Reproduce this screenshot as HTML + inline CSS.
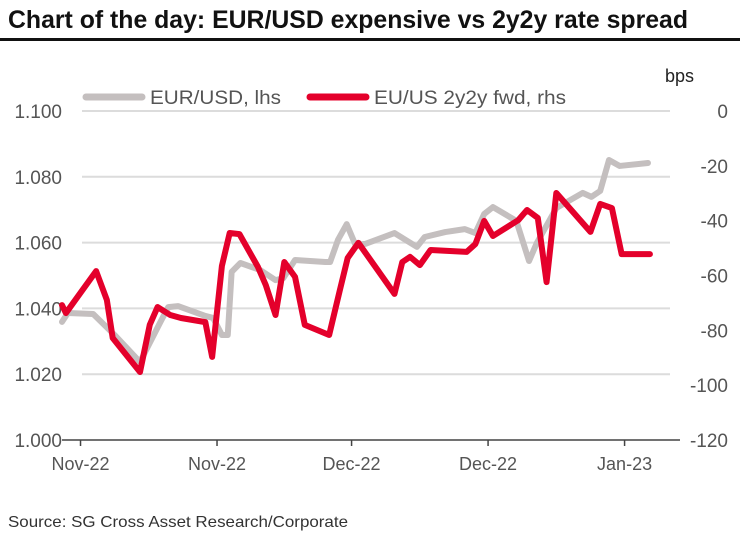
<!DOCTYPE html>
<html><head><meta charset="utf-8"><style>
html,body{margin:0;padding:0;background:#fff;}
svg{display:block;font-family:"Liberation Sans",sans-serif;}
</style></head><body>
<svg id="chart" width="740" height="533" viewBox="0 0 740 533">
<text x="8" y="28" font-size="25" font-weight="bold" fill="#111" textLength="680" lengthAdjust="spacingAndGlyphs">Chart of the day: EUR/USD expensive vs 2y2y rate spread</text>
<rect x="0" y="38" width="740" height="3" fill="#111"/>
<g id="grid"></g>
<g id="axes"></g>
<g id="series"></g>
<g>
<line x1="86" y1="97" x2="142" y2="97" stroke="#c4bfbf" stroke-width="7" stroke-linecap="round"/>
<text x="150" y="104" font-size="19" fill="#555" textLength="131" lengthAdjust="spacingAndGlyphs">EUR/USD, lhs</text>
<line x1="310" y1="97" x2="366" y2="97" stroke="#e4002b" stroke-width="7" stroke-linecap="round"/>
<text x="374" y="104" font-size="19" fill="#555" textLength="192" lengthAdjust="spacingAndGlyphs">EU/US 2y2y fwd, rhs</text>
</g>
<text x="665" y="82" font-size="18" fill="#222">bps</text>
<text x="8" y="527" font-size="16" fill="#333" textLength="340" lengthAdjust="spacingAndGlyphs">Source: SG Cross Asset Research/Corporate</text>
</svg>
<script>
const lhsTicks=[1.000,1.020,1.040,1.060,1.080,1.100];
const lhsTickLabels=["1.000","1.020","1.040","1.060","1.080","1.100"];
const rhsTicks=[-120,-100,-80,-60,-40,-20,0];
const xTickDays=[1.9,15.9,29.7,43.7,57.7];
const xTickLabels=["Nov-22","Nov-22","Dec-22","Dec-22","Jan-23"];
const eurDays=[0,0.6,3.2,5.5,8.0,10.1,10.9,11.9,14.7,15.5,16.4,17.0,17.4,18.3,20.3,21.9,22.7,23.9,27.0,27.5,28.3,29.2,30.1,31.1,34.1,36.4,37.2,39.3,41.3,42.4,43.3,44.2,46.6,47.9,48.7,50.7,53.4,54.3,55.2,56.1,57.2,60.1];
const eurValues=[1.0359,1.0386,1.0383,1.0316,1.0237,1.0359,1.0404,1.0407,1.0377,1.0371,1.0319,1.0319,1.0511,1.0538,1.0517,1.0486,1.0492,1.0547,1.0541,1.0541,1.0608,1.0656,1.0593,1.0596,1.0629,1.0587,1.0617,1.0632,1.0641,1.0629,1.0687,1.0708,1.0666,1.0544,1.0599,1.0705,1.0751,1.0739,1.0757,1.0851,1.0833,1.0842];
const sprDays=[0,0.4,3.5,4.6,5.2,8.0,9.0,9.8,11.1,12.2,14.7,15.4,16.4,17.2,18.2,20.1,20.9,21.9,22.8,23.9,24.9,27.4,28.5,29.3,30.4,34.1,34.9,35.7,36.7,37.8,41.5,42.4,43.3,44.2,46.8,47.7,48.8,49.7,50.7,54.2,55.2,56.4,57.4,60.3];
const sprValues=[-70.8,-73.7,-58.4,-68.9,-82.8,-95.2,-78.0,-71.5,-74.4,-75.5,-77.0,-89.7,-56.5,-44.5,-44.9,-56.9,-63.5,-74.4,-55.1,-60.5,-78.0,-81.7,-65.3,-53.6,-48.1,-66.7,-55.1,-53.2,-56.2,-50.7,-51.4,-48.5,-40.1,-45.6,-39.8,-36.1,-39.0,-62.4,-29.9,-44.1,-33.9,-35.4,-52.2,-52.2];

const NS="http://www.w3.org/2000/svg";
const X0=62,PXD=9.75,Y0=440,Y1=111;
const xs=d=>X0+d*PXD;
const yl=v=>Y0-(v-1.0)/0.1*(Y0-Y1);
const yr=v=>Y0-(v+120)/120*(Y0-Y1);
function mk(tag,attrs,parent){const e=document.createElementNS(NS,tag);for(const k in attrs)e.setAttribute(k,attrs[k]);parent.appendChild(e);return e;}
const grid=document.getElementById('grid'),axes=document.getElementById('axes'),series=document.getElementById('series');
lhsTicks.forEach((v,i)=>{
  if(i>0){const g=mk('line',{x1:82,x2:670,y1:yl(v),y2:yl(v),stroke:'#dcdcdc','stroke-width':2},grid);
  
  }
  const t=mk('text',{x:62,y:yl(v)+7,'font-size':19,fill:'#555','text-anchor':'end'},axes);
  t.textContent=lhsTickLabels[i];
  
  
});
rhsTicks.forEach(v=>{
  const t=mk('text',{x:728,y:yr(v)+7,'font-size':19,fill:'#555','text-anchor':'end'},axes);
  t.textContent=String(v);
  
  
});
const ax=mk('line',{x1:62,x2:680,y1:Y0,y2:Y0,stroke:'#444','stroke-width':1.5},axes);


xTickDays.forEach((d,i)=>{
  const tk=mk('line',{x1:xs(d),x2:xs(d),y1:Y0,y2:Y0+6,stroke:'#444','stroke-width':1.5},axes);
  
  
  const t=mk('text',{x:xs(d),y:470,'font-size':18,fill:'#555','text-anchor':'middle'},axes);
  t.textContent=xTickLabels[i];
  
  
});
const p1=mk('polyline',{points:eurDays.map((d,i)=>xs(d)+','+yl(eurValues[i])).join(' '),fill:'none',stroke:'#c4bfbf','stroke-width':6,'stroke-linejoin':'round','stroke-linecap':'round'},series);


const p2=mk('polyline',{points:sprDays.map((d,i)=>xs(d)+','+yr(sprValues[i])).join(' '),fill:'none',stroke:'#e4002b','stroke-width':6,'stroke-linejoin':'round','stroke-linecap':'round'},series);


</script>
</body></html>
